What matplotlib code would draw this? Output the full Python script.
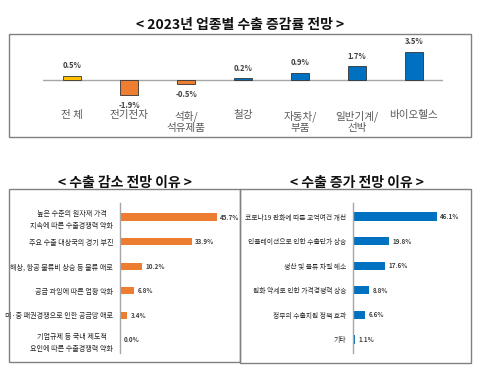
import matplotlib
matplotlib.use("Agg")
import matplotlib.pyplot as plt
from matplotlib.patches import Rectangle
from matplotlib.transforms import blended_transform_factory

plt.rcParams['font.family'] = ['Noto Sans CJK KR', 'DejaVu Sans']

# 업종별 수출 증감률 전망
sectors = ["전 체", "전기전자", "석화/\n석유제품", "철강", "자동차/\n부품", "일반기계/\n선박", "바이오헬스"]
growth = [0.5, -1.9, -0.5, 0.2, 0.9, 1.7, 3.5]
sector_colors = ["#FFC000", "#ED7D31", "#ED7D31", "#0070C0", "#0070C0", "#0070C0", "#0070C0"]

# 수출 감소 전망 이유
dec_reasons = ["높은 수준의 원자재 가격\n지속에 따른 수출경쟁력 약화",
               "주요 수출 대상국의 경기 부진",
               "해상, 항공 물류비 상승 등 물류 애로",
               "공급 과잉에 따른 업황 악화",
               "미·중 패권경쟁으로 인한 공급망 애로",
               "기업규제 등 국내 제도적\n요인에 따른 수출경쟁력 약화"]
dec_share = [45.7, 33.9, 10.2, 6.8, 3.4, 0.0]

# 수출 증가 전망 이유
inc_reasons = ["코로나19 완화에 따른 교역여건 개선",
               "인플레이션으로 인한 수출단가 상승",
               "생산 및 물류 차질 해소",
               "원화 약세로 인한 가격경쟁력 상승",
               "정부의 수출지원 정책 효과",
               "기타"]
inc_share = [46.1, 19.8, 17.6, 8.8, 6.6, 1.1]

W, H = 480, 374
fig = plt.figure(figsize=(W / 100, H / 100), dpi=100)


def box(x0, y0, x1, y1):
    return [x0 / W, 1 - y1 / H, (x1 - x0) / W, (y1 - y0) / H]


def frame(x0, y0, x1, y1):
    fig.add_artist(Rectangle((x0 / W, 1 - y1 / H), (x1 - x0) / W, (y1 - y0) / H,
                             transform=fig.transFigure, fill=False,
                             edgecolor="#808080", linewidth=1.0))


text_col = "#404040"

# ---- 상단: 업종별 증감률 ----
fig.text(240 / W, 1 - 25 / H, "< 2023년 업종별 수출 증감률 전망 >",
         ha="center", va="center", fontsize=10, fontweight="bold", color="#111111")
frame(9, 34, 471, 137)

ax = fig.add_axes(box(43, 40, 443, 100))
x = list(range(len(sectors)))
ax.bar(x, growth, width=0.33, color=sector_colors, edgecolor="#333333", linewidth=0.6, zorder=2)
ax.axhline(0, color="#a6a6a6", linewidth=1.0, zorder=1)
ax.set_xlim(-0.51, len(sectors) - 0.49)
ax.set_ylim(-2.47, 4.94)
ax.axis("off")
for i, v in enumerate(growth):
    if v >= 0:
        ax.annotate(f"{v:.1f}%", (i, v), xytext=(0, 4), textcoords="offset points",
                    ha="center", va="bottom", fontsize=5.5, fontweight="bold", color=text_col)
    else:
        ax.annotate(f"{v:.1f}%", (i, v), xytext=(0, -4), textcoords="offset points",
                    ha="center", va="top", fontsize=5.5, fontweight="bold", color=text_col)
tr = blended_transform_factory(ax.transData, fig.transFigure)
for i, name in enumerate(sectors):
    ax.text(i, 1 - 110 / H, name, transform=tr, ha="center", va="top",
            fontsize=7.6, color="#595959", linespacing=1.2)

# ---- 하단 좌: 감소 이유 ----
fig.text(125 / W, 1 - 183 / H, "< 수출 감소 전망 이유 >",
         ha="center", va="center", fontsize=10, fontweight="bold", color="#111111")
frame(9, 189, 240, 362)

ax1 = fig.add_axes(box(120, 203, 232, 353))
y = list(range(len(dec_reasons)))
ax1.barh(y, dec_share, height=0.3, color="#ED7D31", zorder=2)
ax1.set_ylim(5.53, -0.57)
ax1.set_xlim(0, 112 / 2.12)
for s in ["top", "right", "bottom"]:
    ax1.spines[s].set_visible(False)
ax1.spines["left"].set_color("#a6a6a6")
ax1.spines["left"].set_linewidth(1.0)
ax1.set_xticks([])
ax1.set_yticks(y)
ax1.set_yticklabels(dec_reasons, fontsize=5.1, color="#262626", multialignment="center",
                    linespacing=1.6)
ax1.tick_params(axis="y", length=0, pad=5)
for i, v in enumerate(dec_share):
    ax1.annotate(f"{v:.1f}%", (v, i), xytext=(2.5, 0), textcoords="offset points",
                 ha="left", va="center", fontsize=4.5, fontweight="bold", color=text_col)

# ---- 하단 우: 증가 이유 ----
fig.text(357 / W, 1 - 183 / H, "< 수출 증가 전망 이유 >",
         ha="center", va="center", fontsize=10, fontweight="bold", color="#111111")
frame(240, 189, 471, 363)

ax2 = fig.add_axes(box(353, 203, 466, 353))
y = list(range(len(inc_reasons)))
ax2.barh(y, inc_share, height=0.33, color="#0070C0", zorder=2)
ax2.set_ylim(5.55, -0.55)
ax2.set_xlim(0, 113 / 1.82)
for s in ["top", "right", "bottom"]:
    ax2.spines[s].set_visible(False)
ax2.spines["left"].set_color("#a6a6a6")
ax2.spines["left"].set_linewidth(1.0)
ax2.set_xticks([])
ax2.set_yticks(y)
ax2.set_yticklabels(inc_reasons, fontsize=4.9, color="#262626")
ax2.tick_params(axis="y", length=0, pad=5)
for i, v in enumerate(inc_share):
    ax2.annotate(f"{v:.1f}%", (v, i), xytext=(2.5, 0), textcoords="offset points",
                 ha="left", va="center", fontsize=4.5, fontweight="bold", color=text_col)

fig.savefig("out.png", dpi=100)
